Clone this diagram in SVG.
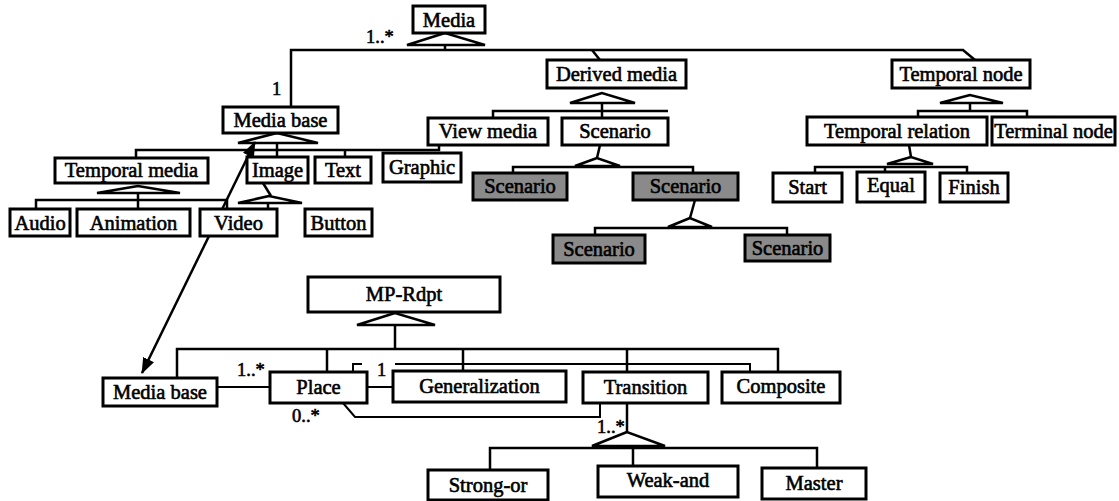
<svg xmlns="http://www.w3.org/2000/svg" width="1119" height="501" viewBox="0 0 1119 501">
  <style>
    .box { fill: #fff; stroke: #000; stroke-width: 3; }
    .gray { fill: #8a8a8a; stroke: #000; stroke-width: 3; }
    .ln { fill: none; stroke: #000; stroke-width: 2.5; }
    .thin { fill: none; stroke: #000; stroke-width: 2; }
    .tri { fill: #fff; stroke: #000; stroke-width: 2.5; stroke-linejoin: miter; }
    text { font-family: "Liberation Serif", "Times New Roman", serif; font-size: 20.5px; text-anchor: middle; fill: #000; stroke: #000; stroke-width: 0.6; }
    .lbl { font-size: 18.5px; text-anchor: start; }
  </style>
  <defs>
    <marker id="head" viewBox="0 0 16 12" refX="15" refY="6" markerWidth="16" markerHeight="12" markerUnits="userSpaceOnUse" orient="auto-start-reverse">
      <path d="M0,0 L16,6 L0,12 Z" fill="#000"/>
    </marker>
  </defs>

  <!-- connectors -->
  <g id="connectors">
    <!-- Media generalization -->
    <polygon class="tri" points="445,33 407,45 485,45"/>
    <polyline class="ln" points="445,45 445,50"/>
    <polyline class="ln" points="291,107 291,50 963,50 975,60"/>
    <polyline class="ln" points="592,50 600,60"/>
    <!-- Media base children -->
    <polygon class="tri" points="277,133 238,143 318,143"/>
    <polyline class="ln" points="277,143 277,150"/>
    <polyline class="ln" points="136,158 136,150 439,150 439,145"/>
    <polyline class="ln" points="277,150 277,158"/>
    <polyline class="ln" points="345,150 345,158"/>
    <!-- Temporal media children -->
    <polygon class="tri" points="138,186 97,193 180,193"/>
    <polyline class="ln" points="138,193 138,200"/>
    <polyline class="ln" points="36,209 36,200 227,200 227,209"/>
    <polyline class="ln" points="138,200 138,209"/>
    <!-- Image children -->
    <polyline class="ln" points="263,183 271,196"/>
    <polygon class="tri" points="269,196 238,203 302,203"/>
    <polyline class="ln" points="268,203 268,209"/>
    <!-- Derived media children -->
    <polygon class="tri" points="602,93 570,103 635,103"/>
    <polyline class="ln" points="602,103 602,118"/>
    <polyline class="ln" points="493,118 493,111 668,111"/>
    <!-- Scenario children -->
    <polyline class="ln" points="600,145 597,158"/>
    <polygon class="tri" points="597,158 575,166 620,166"/>
    <polyline class="ln" points="513,173 513,167 693,167 693,173"/>
    <polyline class="ln" points="695,200 690,218"/>
    <polygon class="tri" points="690,218 668,227 712,227"/>
    <polyline class="ln" points="595,235 595,228 787,228 787,235"/>
    <!-- Temporal node children -->
    <polygon class="tri" points="970,95 940,103 1003,103"/>
    <polyline class="ln" points="970,103 970,111"/>
    <polyline class="ln" points="918,117 918,111 1027,111 1027,117"/>
    <polyline class="ln" points="909,145 911,157"/>
    <polygon class="tri" points="911,157 887,164 933,164"/>
    <polyline class="ln" points="815,173 815,167 967,167 967,173"/>
    <polyline class="ln" points="885,167 885,172"/>

    <!-- link between the two Media base classes -->
    <line class="ln" x1="142" y1="373" x2="255" y2="142" marker-start="url(#head)" marker-end="url(#head)"/>

    <!-- MP-Rdpt generalization -->
    <polygon class="tri" points="395,313 357,325 435,325"/>
    <polyline class="ln" points="395,325 395,349"/>
    <polyline class="ln" points="177,378 177,349 778,349 778,372"/>
    <polyline class="ln" points="327,349 327,372"/>
    <polyline class="ln" points="463,349 463,371"/>
    <polyline class="ln" points="627,349 627,372"/>
    <!-- Place associations -->
    <polyline class="thin" points="353,372 353,364 362,364"/>
    <polyline class="thin" points="395,364 750,364 750,372"/>
    <line class="thin" x1="217" y1="387" x2="270" y2="387"/>
    <line class="thin" x1="367" y1="387" x2="393" y2="387"/>
    <polyline class="thin" points="343,403 355,417 600,417 600,403"/>
    <!-- Transition children -->
    <polyline class="ln" points="627,403 627,432"/>
    <polygon class="tri" points="627,432 592,446 665,446"/>
    <polyline class="ln" points="490,470 490,448 817,448 817,468"/>
    <polyline class="ln" points="633,448 633,466"/>

    <!-- multiplicities -->
    <text class="lbl" x="366" y="43">1..*</text>
    <text class="lbl" x="272" y="95">1</text>
    <text class="lbl" x="237" y="376">1..*</text>
    <text class="lbl" x="377" y="376">1</text>
    <text class="lbl" x="292" y="422">0..*</text>
    <text class="lbl" x="597" y="433">1..*</text>
  </g>

  <!-- media classes -->
  <g id="media"><rect class="box" x="413" y="6" width="72" height="27"/><text x="449" y="27">Media</text></g>
  <g id="media-base"><rect class="box" x="223" y="107" width="115" height="26"/><text x="280.5" y="127">Media base</text></g>
  <g id="derived-media"><rect class="box" x="547" y="60" width="139" height="28"/><text x="616.5" y="81">Derived media</text></g>
  <g id="temporal-node"><rect class="box" x="892" y="60" width="138" height="28"/><text x="961" y="81">Temporal node</text></g>
  <g id="temporal-media"><rect class="box" x="55" y="158" width="153" height="25"/><text x="131.5" y="177">Temporal media</text></g>
  <g id="image"><rect class="box" x="247" y="157" width="61" height="26"/><text x="277.5" y="177">Image</text></g>
  <g id="text"><rect class="box" x="315" y="157" width="56" height="26"/><text x="343" y="177">Text</text></g>
  <g id="graphic"><rect class="box" x="383" y="153" width="78" height="29"/><text x="422" y="174">Graphic</text></g>
  <g id="view-media"><rect class="box" x="428" y="118" width="120" height="27"/><text x="488" y="138">View media</text></g>
  <g id="scenario"><rect class="box" x="562" y="118" width="106" height="27"/><text x="615" y="138">Scenario</text></g>
  <g id="scenario-a"><rect class="gray" x="473" y="173" width="94" height="27"/><text x="520" y="193">Scenario</text></g>
  <g id="scenario-b"><rect class="gray" x="633" y="173" width="105" height="27"/><text x="685.5" y="193">Scenario</text></g>
  <g id="scenario-c"><rect class="gray" x="553" y="235" width="92" height="28"/><text x="599" y="256">Scenario</text></g>
  <g id="scenario-d"><rect class="gray" x="745" y="235" width="85" height="26"/><text x="787.5" y="255">Scenario</text></g>
  <g id="temporal-relation"><rect class="box" x="807" y="117" width="180" height="28"/><text x="897" y="138">Temporal relation</text></g>
  <g id="terminal-node"><rect class="box" x="992" y="117" width="123" height="28"/><text x="1053.5" y="138">Terminal node</text></g>
  <g id="start"><rect class="box" x="773" y="173" width="69" height="29"/><text x="807.5" y="194">Start</text></g>
  <g id="equal"><rect class="box" x="857" y="172" width="68" height="30"/><text x="891" y="192">Equal</text></g>
  <g id="finish"><rect class="box" x="940" y="173" width="68" height="29"/><text x="974" y="194">Finish</text></g>
  <g id="audio"><rect class="box" x="10" y="209" width="60" height="27"/><text x="40" y="230">Audio</text></g>
  <g id="animation"><rect class="box" x="77" y="209" width="113" height="27"/><text x="133.5" y="230">Animation</text></g>
  <g id="video"><rect class="box" x="200" y="209" width="77" height="27"/><text x="238.5" y="230">Video</text></g>
  <g id="button"><rect class="box" x="305" y="209" width="67" height="27"/><text x="338.5" y="230">Button</text></g>

  <!-- MP-Rdpt classes -->
  <g id="mp-rdpt"><rect class="box" x="308" y="277" width="192" height="35"/><text x="404" y="301">MP-Rdpt</text></g>
  <g id="media-base-net"><rect class="box" x="103" y="378" width="114" height="28"/><text x="160" y="399">Media base</text></g>
  <g id="place"><rect class="box" x="270" y="372" width="97" height="31"/><text x="318.5" y="394">Place</text></g>
  <g id="generalization"><rect class="box" x="393" y="371" width="173" height="31"/><text x="479.5" y="393">Generalization</text></g>
  <g id="transition"><rect class="box" x="583" y="372" width="125" height="31"/><text x="645.5" y="394">Transition</text></g>
  <g id="composite"><rect class="box" x="722" y="372" width="118" height="31"/><text x="781" y="393">Composite</text></g>
  <g id="strong-or"><rect class="box" x="428" y="470" width="120" height="30"/><text x="488" y="492">Strong-or</text></g>
  <g id="weak-and"><rect class="box" x="598" y="466" width="140" height="31"/><text x="668" y="487">Weak-and</text></g>
  <g id="master"><rect class="box" x="762" y="468" width="104" height="31"/><text x="814" y="490">Master</text></g>
</svg>
